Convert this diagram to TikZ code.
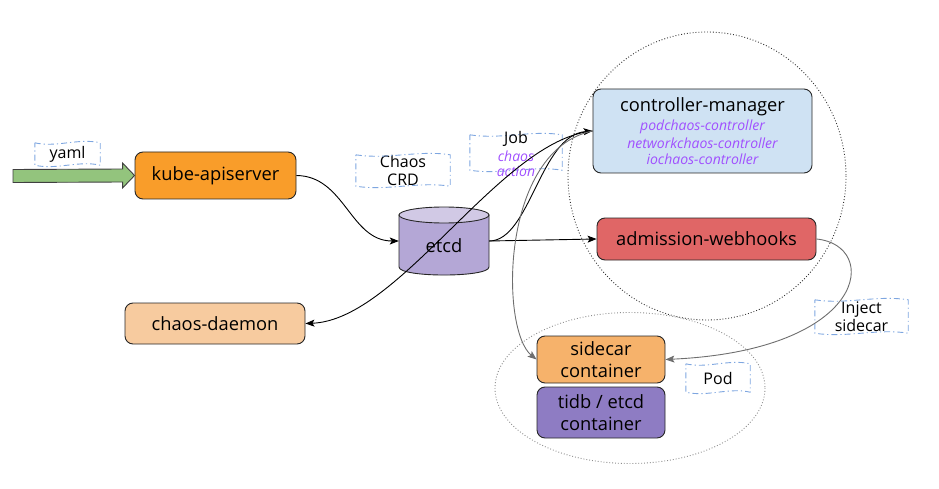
\documentclass[tikz,border=0pt]{standalone}
\usepackage{fontspec}
\setmainfont{Open Sans}
\usetikzlibrary{arrows.meta,calc}
\definecolor{kubeC}{HTML}{F99D2A}
\definecolor{daemonC}{HTML}{F7CB9F}
\definecolor{cmC}{HTML}{CFE2F3}
\definecolor{awC}{HTML}{E06666}
\definecolor{sideC}{HTML}{F6B26B}
\definecolor{tidbC}{HTML}{8E7CC3}
\definecolor{etcdC}{HTML}{B4A7D6}
\definecolor{etcdTop}{HTML}{D1C9E5}
\definecolor{greenC}{HTML}{93C47D}
\definecolor{purpC}{HTML}{A050FF}
\definecolor{tapeC}{HTML}{7EA6E0}
\definecolor{grayC}{HTML}{6E6E6E}
\newcommand\tapeborder[1]{%
  \draw[tape] (#1.north west)
   .. controls ($(#1.north west)!0.33!(#1.north east)+(0,5)$) and ($(#1.north west)!0.67!(#1.north east)+(0,-5)$) .. (#1.north east)
   -- (#1.south east)
   .. controls ($(#1.south west)!0.67!(#1.south east)+(0,-5)$) and ($(#1.south west)!0.33!(#1.south east)+(0,5)$) .. (#1.south west)
   -- cycle;}
\tikzset{
  box/.style={draw=black!85, rounded corners=8pt, line width=0.9pt, align=center, inner sep=0pt, font=\fontsize{18.3}{22}\selectfont},
  maintext/.style={inner sep=0pt, font=\fontsize{18.3}{22}\selectfont},
  purptext/.style={inner sep=0pt, font=\fontsize{14}{16}\selectfont\itshape, text=purpC},
  tape/.style={draw=tapeC, line width=0.9pt, dash pattern=on 6pt off 3pt on 1.2pt off 3pt},
  tapebox/.style={inner sep=0pt, align=center, font=\fontsize{16}{18.5}\selectfont},
  conn/.style={line width=0.9pt, -{Stealth[length=9pt,width=7pt,inset=2pt]}},
}
\begin{document}
\begin{tikzpicture}[x=1pt,y=-1pt]
\useasboundingbox (0,0) rectangle (939,489);
% group outlines
\draw[black!80, dotted, line width=0.9pt] (707,176) ellipse [x radius=139, y radius=144];
\draw[black!45, dotted, line width=0.9pt] (630,388) ellipse [x radius=135, y radius=75.5];

% nodes
\node[box, fill=kubeC, minimum width=161, minimum height=47] (kube) at (215.5,175.5) {kube-apiserver};
\node[box, fill=daemonC, minimum width=180, minimum height=41] (daemon) at (215,323.5) {chaos-daemon};
\node[box, fill=cmC, minimum width=219, minimum height=84] (cm) at (702.5,131) {};
\node[maintext] (cmtitle) at (702.5,107) {controller-manager};
\node[purptext] (cmp1) at (702.5,127) {podchaos-controller};
\node[purptext] (cmp2) at (702.5,143.5) {networkchaos-controller};
\node[purptext] (cmp3) at (702.5,159.5) {iochaos-controller};
\node[box, fill=awC, minimum width=219, minimum height=42] (aw) at (706.5,239) {admission-webhooks};
\node[box, fill=sideC, minimum width=128, minimum height=47] (side) at (601,359.5) {sidecar\\container};
\node[box, fill=tidbC, minimum width=128, minimum height=51] (tidb) at (601,412.5) {tidb / etcd\\container};

% etcd cylinder
\node[inner sep=0pt, minimum width=90, minimum height=68] (etcd) at (444,241) {};
\filldraw[fill=etcdC, draw=black!85, line width=0.9pt] (399,215) -- (399,267) .. controls (399,277.7) and (489,277.7) .. (489,267) -- (489,215) -- cycle;
\filldraw[fill=etcdTop, draw=black!85, line width=0.9pt] (444,215) ellipse [x radius=45, y radius=8];
\node[maintext] (etcdlabel) at (444,246) {etcd};

% labels
\node[tapebox, minimum width=65, minimum height=22] (yaml) at (67.5,154) {yaml};
\tapeborder{yaml}
\node[tapebox, minimum width=94, minimum height=31] (crd) at (403,170.5) {Chaos\\CRD};
\tapeborder{crd}
\node[minimum width=92, minimum height=35, inner sep=0pt] (jobbox) at (516,152.5) {};
\tapeborder{jobbox}
\node[tapebox] (jobtext) at (516,138.5) {Job};
\node[purptext] (jobp1) at (516,156.5) {chaos};
\node[purptext] (jobp2) at (516,171.5) {action};
\node[tapebox, minimum width=93, minimum height=33] (inject) at (861.5,316.5) {Inject\\sidecar};
\tapeborder{inject}
\node[tapebox, minimum width=64, minimum height=28] (pod) at (718,378) {Pod};
\tapeborder{pod}

% green input arrow
\coordinate (yamlin) at (13,176);
\filldraw[fill=greenC, draw=black!75, line width=0.9pt]
  ($(yamlin)+(0,-6.5)$) -- ($(kube.west)+(-12,-6.5)$) -- ($(kube.west)+(-12,-12.5)$) -- (kube.west)
  -- ($(kube.west)+(-12,12.5)$) -- ($(kube.west)+(-12,6.5)$) -- ($(yamlin)+(0,6.5)$) -- cycle;

% connectors
\draw[conn] (kube.east) .. controls (345,176) and (350,241) .. (etcd.west);
\draw[conn] (etcd.east) .. controls (530,241) and (540,135) .. (cm.west);
\draw[conn] (etcd.east) -- (aw.west);
\draw[conn] (cm.west) .. controls (500,140) and (400,320) .. (daemon.east);
\draw[conn, grayC] (cm.west) .. controls (500,150) and (500,330) .. (side.west);
\draw[conn, grayC] (aw.east) .. controls (880,245) and (870,350) .. (side.east);
\end{tikzpicture}
\end{document}
